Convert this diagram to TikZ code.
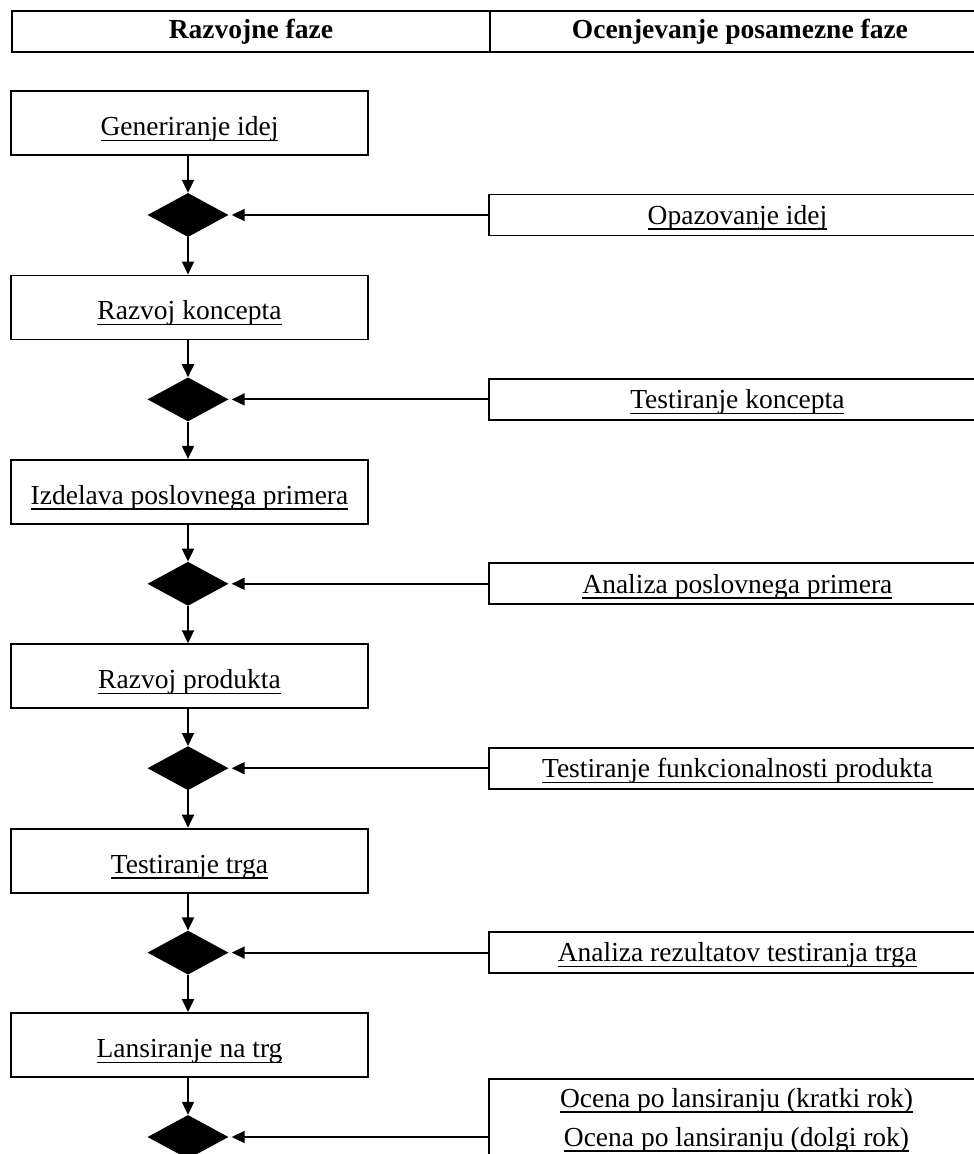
\documentclass[tikz,border=0pt]{standalone}
\usepackage{fontspec}
\setmainfont{Liberation Serif}
\usetikzlibrary{shapes.geometric,arrows.meta}
\newcommand\ulx[1]{\sbox0{#1}\raisebox{0pt}[18.5pt][0pt]{\rlap{\rule[-5.5pt]{\wd0}{1.4pt}}\usebox0}}
\begin{document}
\begin{tikzpicture}[x=1pt,y=-1pt,
  txt/.style={font=\fontsize{27.5}{33}\selectfont, inner sep=0pt},
  hcell/.style={draw, line width=1.8pt, minimum height=41pt, anchor=north west, inner sep=0pt, font=\fontsize{27.5}{33}\selectfont\bfseries},
  lbox/.style={draw, line width=1.8pt, minimum width=357pt, minimum height=64pt, inner sep=0pt, text height=25pt, text depth=0pt, font=\fontsize{27.5}{33}\selectfont},
  rbox/.style={draw, line width=1.8pt, minimum width=497pt, minimum height=41pt, anchor=west, inner sep=0pt, font=\fontsize{27.5}{33}\selectfont},
  dia/.style={diamond, fill=black, draw=none, minimum width=81pt, minimum height=44pt, inner sep=0pt},
  arr/.style={line width=1.9pt, -{Triangle[length=13pt,width=12pt]}},
  harr/.style={line width=1.9pt, -{Triangle[length=13pt,width=12pt]}, shorten >=3pt}
]
\clip (0,0) rectangle (974,1154);
\fill[white] (0,0) rectangle (974,1154);
% header
\node[hcell, minimum width=478pt] (h1) at (11,10) {Razvojne faze};
\node[hcell, minimum width=500pt] (h2) at (489,10) {Ocenjevanje posamezne faze};
% left boxes
\node[lbox] (b1) at (189.5,123) {\ulx{Generiranje idej}};
\node[lbox] (b2) at (189.5,307.4) {\ulx{Razvoj koncepta}};
\node[lbox] (b3) at (189.5,491.8) {\ulx{Izdelava poslovnega primera}};
\node[lbox] (b4) at (189.5,676.2) {\ulx{Razvoj produkta}};
\node[lbox] (b5) at (189.5,860.6) {\ulx{Testiranje trga}};
\node[lbox] (b6) at (189.5,1045) {\ulx{Lansiranje na trg}};
% diamonds
\node[dia] (d1) at (188,215) {};
\node[dia] (d2) at (188,399.4) {};
\node[dia] (d3) at (188,583.8) {};
\node[dia] (d4) at (188,768.2) {};
\node[dia] (d5) at (188,952.6) {};
\node[dia] (d6) at (188,1137) {};
% right boxes
\node[rbox] (r1) at (488,215) {\ulx{Opazovanje idej}};
\node[rbox] (r2) at (488,399.4) {\ulx{Testiranje koncepta}};
\node[rbox] (r3) at (488,583.8) {\ulx{Analiza poslovnega primera}};
\node[rbox] (r4) at (488,768.2) {\ulx{Testiranje funkcionalnosti produkta}};
\node[rbox] (r5) at (488,952.6) {\ulx{Analiza rezultatov testiranja trga}};
\node[draw, line width=1.8pt, minimum width=497pt, minimum height=120pt, anchor=north west, inner sep=0pt] (r6) at (488,1078) {};
\node[txt] (t6a) at (736.5,1098) {\ulx{Ocena po lansiranju (kratki rok)}};
\node[txt] (t6b) at (736.5,1137) {\ulx{Ocena po lansiranju (dolgi rok)}};
% vertical arrows
\foreach \i in {1,...,6} {
  \draw[arr] (b\i.south -| d\i.north) -- (d\i.north);
}
\foreach \i/\j in {1/2,2/3,3/4,4/5,5/6} {
  \draw[arr] (d\i.south) -- (b\j.north -| d\i.south);
}
% horizontal arrows
\foreach \k in {1,...,5} {
  \draw[harr] (r\k.west) -- (d\k.east);
}
\draw[harr] (r6.west |- d6.center) -- (d6.east);
\end{tikzpicture}
\end{document}
